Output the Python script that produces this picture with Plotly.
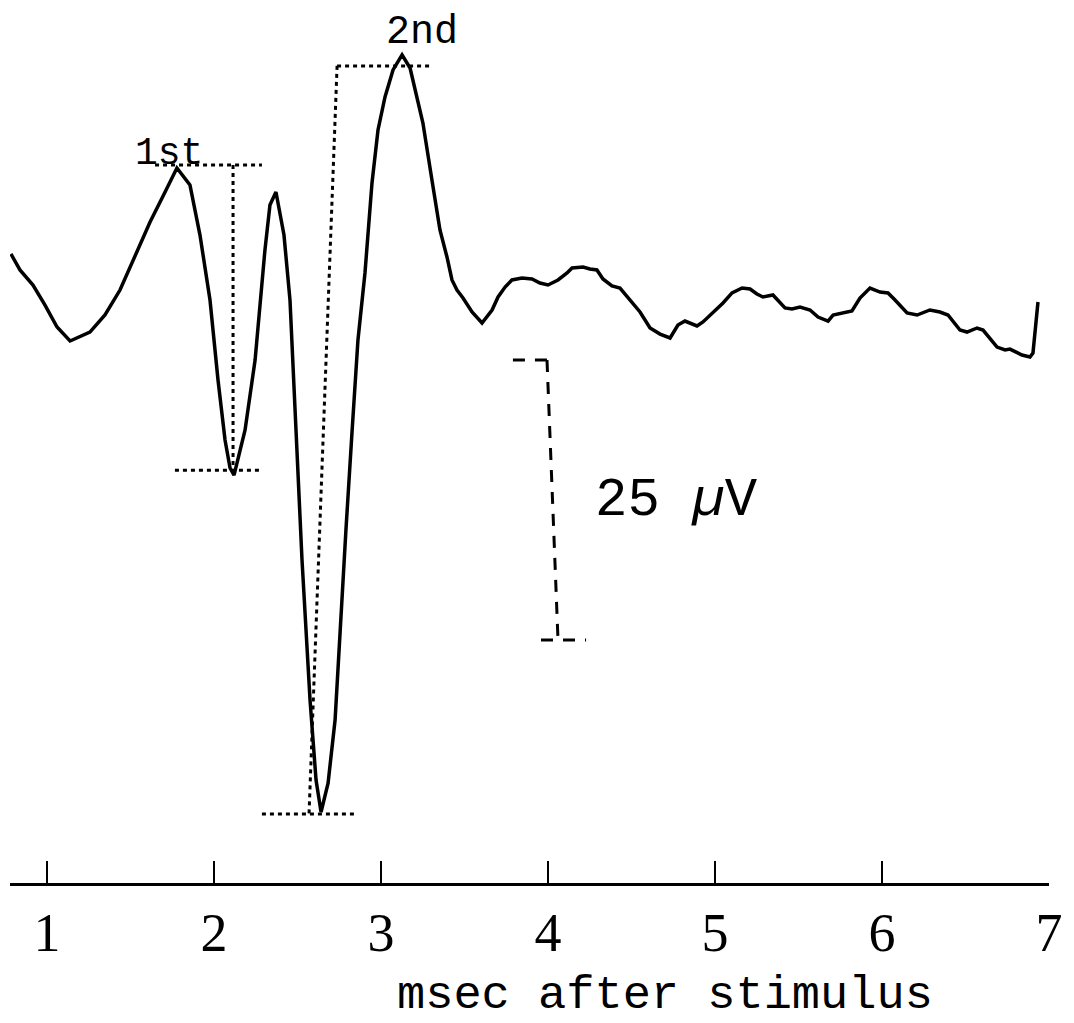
import plotly.graph_objects as go

# Evoked potential waveform: time (msec after stimulus) and amplitude (µV)
time_ms = [0.784, 0.838, 0.916, 0.988, 1.060, 1.138, 1.257, 1.347, 1.437, 1.527,
           1.617, 1.707, 1.778, 1.856, 1.916, 1.976, 2.024, 2.066, 2.096, 2.120,
           2.186, 2.246, 2.305, 2.335, 2.371, 2.419, 2.455, 2.491, 2.527, 2.575,
           2.611, 2.641, 2.683, 2.725, 2.754, 2.790, 2.826, 2.862, 2.904, 2.946,
           2.982, 3.024, 3.072, 3.126, 3.174, 3.204, 3.251, 3.305, 3.353, 3.395,
           3.425, 3.455, 3.491, 3.545, 3.605, 3.665, 3.701, 3.743, 3.784, 3.844,
           3.904, 3.952, 4.000, 4.060, 4.114, 4.144, 4.210, 4.251, 4.293, 4.329,
           4.383, 4.431, 4.491, 4.551, 4.611, 4.671, 4.731, 4.778, 4.820, 4.850,
           4.892, 4.928, 4.988, 5.048, 5.102, 5.162, 5.210, 5.251, 5.287, 5.347,
           5.419, 5.461, 5.509, 5.569, 5.617, 5.677, 5.707, 5.760, 5.820, 5.868,
           5.928, 5.988, 6.036, 6.078, 6.150, 6.210, 6.287, 6.347, 6.395, 6.467,
           6.509, 6.569, 6.605, 6.689, 6.737, 6.766, 6.838, 6.886, 6.904, 6.934]
amplitude_uv = [4.11, 2.68, 1.34, -0.45, -2.41, -3.66, -2.86, -1.34, 0.89, 4.02,
                6.96, 9.64, 11.79, 10.27, 5.80, 0.00, -7.14, -12.50, -15.00, -15.63,
                -11.61, -5.36, 4.46, 8.48, 9.64, 5.80, 0.00, -11.61, -23.21, -35.71,
                -42.86, -45.71, -43.13, -37.50, -29.73, -20.54, -11.88, -3.57, 2.41, 10.45,
                15.18, 18.13, 20.54, 21.88, 20.71, 18.75, 15.80, 10.71, 6.25, 3.84,
                1.79, 0.89, 0.18, -1.07, -2.05, -0.89, 0.27, 1.16, 1.79, 1.96,
                1.88, 1.52, 1.34, 1.79, 2.41, 2.86, 2.95, 2.77, 2.68, 1.88,
                1.25, 1.07, 0.00, -1.07, -2.50, -3.04, -3.39, -2.23, -1.88, -2.05,
                -2.32, -1.96, -1.16, -0.27, 0.63, 1.07, 0.98, 0.54, 0.27, 0.45,
                -0.71, -0.80, -0.63, -0.89, -1.52, -1.88, -1.34, -1.16, -0.98, 0.18,
                1.07, 0.71, 0.63, 0.00, -1.16, -1.34, -0.89, -1.07, -1.34, -2.68,
                -2.86, -2.50, -2.68, -4.20, -4.46, -4.38, -4.91, -5.09, -4.73, -0.18]

# Peak measurement guides (msec, µV)
first_top_x = [1.647, 2.287]
first_top_y = [12.05, 12.05]
first_vert_x = [2.114, 2.114]
first_vert_y = [12.05, -15.2]
first_bot_x = [1.766, 2.287]
first_bot_y = [-15.2, -15.2]

second_top_x = [2.737, 3.305]
second_top_y = [20.9, 20.9]
second_vert_x = [2.737, 2.569]
second_vert_y = [20.9, -45.9]
second_bot_x = [2.287, 2.862]
second_bot_y = [-45.9, -45.9]

# 25 µV calibration bar
scale_top_x = [3.790, 4.018]
scale_top_y = [-5.36, -5.36]
scale_vert_x = [3.994, 4.060]
scale_vert_y = [-5.36, -30.36]
scale_bot_x = [3.958, 4.228]
scale_bot_y = [-30.36, -30.36]

tick_vals = [1, 2, 3, 4, 5, 6, 7]
tick_text = ["1", "2", "3", "4", "5", "6", "7"]

MONO = "Liberation Mono"
SERIF = "Liberation Serif"

fig = go.Figure()

def guide(x, y, dash, width=3):
    fig.add_trace(go.Scatter(x=x, y=y, mode="lines", cliponaxis=False,
                             line=dict(color="black", width=width, dash=dash),
                             hoverinfo="skip", showlegend=False))

DOT = "4px,4px"
DASH = "12px,10px"
guide(first_top_x, first_top_y, DOT)
guide(first_vert_x, first_vert_y, DOT)
guide(first_bot_x, first_bot_y, DOT)
guide(second_top_x, second_top_y, DOT)
guide(second_vert_x, second_vert_y, DOT)
guide(second_bot_x, second_bot_y, DOT)
guide(scale_top_x, scale_top_y, DASH)
guide(scale_vert_x, scale_vert_y, DASH)
guide(scale_bot_x, scale_bot_y, DASH)

fig.add_trace(go.Scatter(x=time_ms, y=amplitude_uv, mode="lines", cliponaxis=False,
                         line=dict(color="black", width=3.5), showlegend=False))

fig.add_annotation(x=1.730, y=13.1, text="1st", showarrow=False, yanchor="middle",
                   font=dict(family=MONO, size=38, color="black"))
fig.add_annotation(x=3.246, y=1.0, yref="paper", yanchor="top", text="2nd",
                   showarrow=False, font=dict(family=MONO, size=40, color="black"))
fig.add_annotation(x=4.772, y=-17.86, text="25 <i>µ</i>V", showarrow=False,
                   yanchor="middle",
                   font=dict(family=MONO, size=54, color="black"))
fig.add_annotation(x=0.630, y=-0.1291, xref="paper", yref="paper", yanchor="middle",
                   text="msec after stimulus", showarrow=False,
                   font=dict(family=MONO, size=47, color="black"))

fig.update_layout(
    width=1074, height=1023,
    margin=dict(l=2, r=33, t=0, b=148),
    paper_bgcolor="white", plot_bgcolor="white",
    xaxis=dict(range=[0.7784, 7.0], tickvals=tick_vals, ticktext=tick_text,
               ticks="inside", ticklen=22, tickwidth=2, tickcolor="black",
               showline=True, linecolor="black", linewidth=3,
               showgrid=False, zeroline=False, ticklabelstandoff=0,
               tickfont=dict(family=SERIF, size=54, color="black")),
    yaxis=dict(range=[-52.05, 26.07], visible=False, showgrid=False, zeroline=False),
)

fig.write_html("out.html")
